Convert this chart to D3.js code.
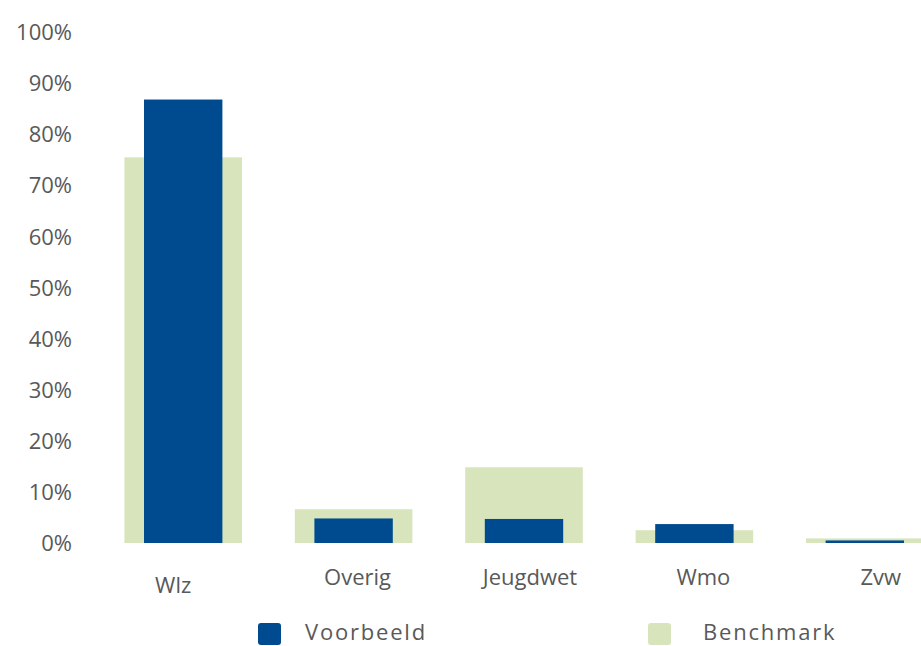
<!DOCTYPE html>
<html>
<head>
<meta charset="utf-8">
<script src="https://cdn.jsdelivr.net/npm/d3@7"></script>
<style>
  html, body { margin: 0; padding: 0; background: #ffffff; }
  svg { display: block; }
  text { font-family: "Open Sans", "DejaVu Sans", sans-serif; fill: #595959; }
</style>
</head>
<body>
<svg id="chart" width="921" height="646"></svg>
<script>
// ---- data ----
const categories = ["Wlz", "Overig", "Jeugdwet", "Wmo", "Zvw"];
const voorbeeld = [0.867, 0.048, 0.047, 0.037, 0.005];
const benchmark = [0.754, 0.066, 0.148, 0.025, 0.009];
const yTicks = [0, 0.1, 0.2, 0.3, 0.4, 0.5, 0.6, 0.7, 0.8, 0.9, 1.0];
const seriesNames = ["Voorbeeld", "Benchmark"];

// ---- drawing ----
const colors = { Voorbeeld: "#004a8f", Benchmark: "#d8e4bc" };
const svg = d3.select("#chart");

const x = d3.scaleBand().domain(categories).range([98, 950]).paddingInner(0).paddingOuter(0);
const y = d3.scaleLinear().domain([0, 1]).range([543, 31.5]);

const benchW = x.bandwidth() * 0.69;
const voorW = x.bandwidth() * 0.46;

// Benchmark (wide, behind)
svg.append("g").selectAll("rect")
  .data(categories.map((c, i) => ({ c, v: benchmark[i] })))
  .join("rect")
  .attr("x", d => x(d.c) + x.bandwidth() / 2 - benchW / 2)
  .attr("y", d => y(d.v))
  .attr("width", benchW)
  .attr("height", d => y(0) - y(d.v))
  .attr("fill", colors.Benchmark);

// Voorbeeld (narrow, front)
svg.append("g").selectAll("rect")
  .data(categories.map((c, i) => ({ c, v: voorbeeld[i] })))
  .join("rect")
  .attr("x", d => x(d.c) + x.bandwidth() / 2 - voorW / 2)
  .attr("y", d => y(d.v))
  .attr("width", voorW)
  .attr("height", d => y(0) - y(d.v))
  .attr("fill", colors.Voorbeeld);

// Y axis
const yAxis = svg.append("g")
  .attr("transform", "translate(72,0)")
  .call(d3.axisLeft(y).tickValues(yTicks).tickSize(0).tickPadding(0).tickFormat(d3.format(".0%")));
yAxis.select(".domain").remove();
yAxis.selectAll("text")
  .style("font-family", "'Open Sans', sans-serif")
  .style("font-size", "22px")
  .attr("fill", "#595959")
  .attr("dy", "0.36em");

// X category labels
const labelShift = { Wlz: [-10, 8], Overig: [4, 0], Jeugdwet: [6, 0], Wmo: [9, 0], Zvw: [16, 0] };
svg.append("g").selectAll("text")
  .data(categories)
  .join("text")
  .attr("x", d => x(d) + x.bandwidth() / 2 + labelShift[d][0])
  .attr("y", d => 585 + labelShift[d][1])
  .attr("text-anchor", "middle")
  .style("font-size", "22px")
  .text(d => d);

// Legend
const legendX = [258, 648];
const legend = svg.append("g").selectAll("g")
  .data(seriesNames)
  .join("g")
  .attr("transform", (d, i) => `translate(${legendX[i]},0)`);
legend.append("rect")
  .attr("x", 0).attr("y", 623)
  .attr("width", 23).attr("height", 22)
  .attr("rx", 3)
  .attr("fill", d => colors[d]);
legend.append("text")
  .attr("x", (d, i) => i === 0 ? 47 : 55)
  .attr("y", 640)
  .style("font-size", "22px")
  .style("letter-spacing", "1.8px")
  .text(d => d);
</script>
</body>
</html>
